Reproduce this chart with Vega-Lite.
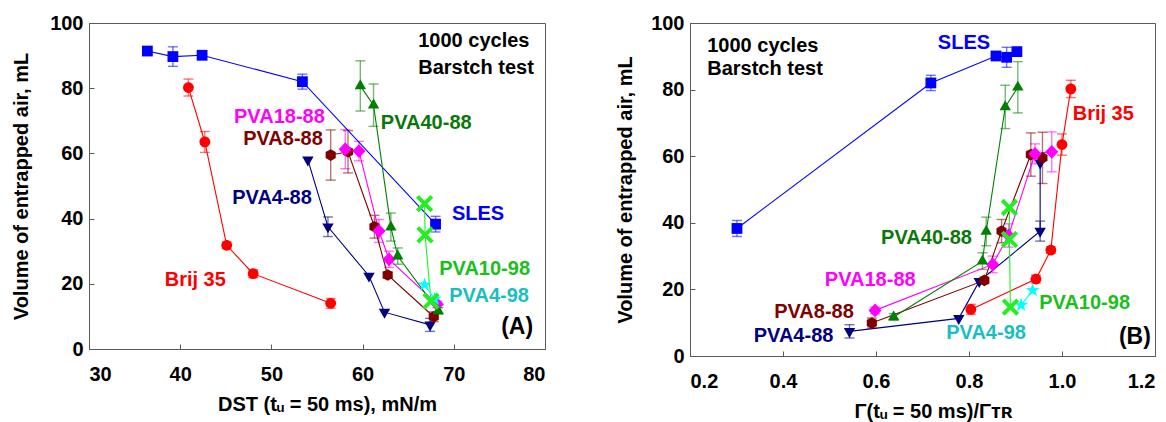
{
  "$schema": "https://vega.github.io/schema/vega-lite/v6.json",
  "background": "white",
  "padding": {"left": 11, "top": 12, "right": 0, "bottom": 0},
  "bounds": "flush",
  "spacing": 145,
  "datasets": {
    "pts": [
      {"series": "SLES", "ord": 1, "dst": 36.4, "gamma": 0.903, "vol": 91.4, "err": 0},
      {"series": "SLES", "ord": 2, "dst": 39.2, "gamma": 0.881, "vol": 89.7, "err": 3.0},
      {"series": "SLES", "ord": 3, "dst": 42.4, "gamma": 0.858, "vol": 90.1, "err": 0},
      {"series": "SLES", "ord": 4, "dst": 53.4, "gamma": 0.718, "vol": 82.0, "err": 2.3},
      {"series": "SLES", "ord": 5, "dst": 68.0, "gamma": 0.301, "vol": 38.3, "err": 2.4},
      {"series": "Brij 35", "ord": 1, "dst": 40.9, "gamma": 1.019, "vol": 80.2, "err": 2.6},
      {"series": "Brij 35", "ord": 2, "dst": 42.7, "gamma": 1.0, "vol": 63.5, "err": 3.2},
      {"series": "Brij 35", "ord": 3, "dst": 45.1, "gamma": 0.976, "vol": 31.8, "err": 1.0},
      {"series": "Brij 35", "ord": 4, "dst": 48.0, "gamma": 0.944, "vol": 23.1, "err": 1.2},
      {"series": "Brij 35", "ord": 5, "dst": 56.5, "gamma": 0.804, "vol": 14.0, "err": 1.5},
      {"series": "PVA4-88", "ord": 1, "dst": 54.0, "gamma": 0.953, "vol": 58.0, "err": 0},
      {"series": "PVA4-88", "ord": 2, "dst": 56.2, "gamma": 0.953, "vol": 37.5, "err": 3.0},
      {"series": "PVA4-88", "ord": 3, "dst": 60.7, "gamma": 0.822, "vol": 22.4, "err": 0},
      {"series": "PVA4-88", "ord": 4, "dst": 62.4, "gamma": 0.778, "vol": 11.3, "err": 0},
      {"series": "PVA4-88", "ord": 5, "dst": 67.4, "gamma": 0.543, "vol": 7.4, "err": 2.0},
      {"series": "PVA8-88", "ord": 1, "dst": 56.5, "gamma": 0.958, "vol": 59.5, "err": 7.7},
      {"series": "PVA8-88", "ord": 2, "dst": 58.4, "gamma": 0.933, "vol": 60.5, "err": 6.5},
      {"series": "PVA8-88", "ord": 3, "dst": 61.3, "gamma": 0.87, "vol": 37.5, "err": 3.5},
      {"series": "PVA8-88", "ord": 4, "dst": 62.75, "gamma": 0.833, "vol": 22.7, "err": 1.0},
      {"series": "PVA8-88", "ord": 5, "dst": 67.8, "gamma": 0.591, "vol": 9.9, "err": 1.5},
      {"series": "PVA18-88", "ord": 1, "dst": 58.1, "gamma": 0.978, "vol": 61.3, "err": 6.0},
      {"series": "PVA18-88", "ord": 2, "dst": 59.6, "gamma": 0.942, "vol": 60.7, "err": 3.0},
      {"series": "PVA18-88", "ord": 3, "dst": 61.8, "gamma": 0.885, "vol": 36.2, "err": 3.5},
      {"series": "PVA18-88", "ord": 4, "dst": 62.9, "gamma": 0.851, "vol": 27.5, "err": 2.5},
      {"series": "PVA18-88", "ord": 5, "dst": 68.2, "gamma": 0.598, "vol": 13.7, "err": 1.0},
      {"series": "PVA40-88", "ord": 1, "dst": 59.75, "gamma": 0.905, "vol": 80.7, "err": 7.7},
      {"series": "PVA40-88", "ord": 2, "dst": 61.2, "gamma": 0.878, "vol": 74.8, "err": 6.5},
      {"series": "PVA40-88", "ord": 3, "dst": 63.1, "gamma": 0.837, "vol": 37.4, "err": 4.3},
      {"series": "PVA40-88", "ord": 4, "dst": 63.85, "gamma": 0.829, "vol": 28.5, "err": 2.5},
      {"series": "PVA40-88", "ord": 5, "dst": 68.3, "gamma": 0.638, "vol": 11.7, "err": 1.0},
      {"series": "PVA10-98", "ord": 1, "dst": 66.8, "gamma": 0.887, "vol": 44.6, "err": 0},
      {"series": "PVA10-98", "ord": 2, "dst": 66.85, "gamma": 0.887, "vol": 35.0, "err": 0},
      {"series": "PVA10-98", "ord": 3, "dst": 67.5, "gamma": 0.889, "vol": 14.7, "err": 0},
      {"series": "PVA4-98", "ord": 1, "dst": 66.8, "gamma": 0.937, "vol": 19.7, "err": 0},
      {"series": "PVA4-98", "ord": 2, "dst": 67.9, "gamma": 0.912, "vol": 15.3, "err": 0}
    ],
    "lblA": [
      {"text": "SLES", "series": "SLES", "dst": 69.8, "vol": 41.4},
      {"text": "PVA40-88", "series": "PVA40-88", "dst": 62.0, "vol": 69.4},
      {"text": "PVA18-88", "series": "PVA18-88", "dst": 45.9, "vol": 71.2},
      {"text": "PVA8-88", "series": "PVA8-88", "dst": 46.9, "vol": 64.5},
      {"text": "PVA4-88", "series": "PVA4-88", "dst": 45.7, "vol": 46.4},
      {"text": "Brij 35", "series": "Brij 35", "dst": 38.3, "vol": 21.2},
      {"text": "PVA10-98", "series": "PVA10-98", "dst": 68.4, "vol": 24.4},
      {"text": "PVA4-98", "series": "PVA4-98", "dst": 69.5, "vol": 16.3},
      {"text": "1000 cycles", "series": "note", "dst": 66.1, "vol": 94.5},
      {"text": "Barstch test", "series": "note", "dst": 66.1, "vol": 86.2}
    ],
    "lblB": [
      {"text": "SLES", "series": "SLES", "gamma": 0.733, "vol": 94.1},
      {"text": "Brij 35", "series": "Brij 35", "gamma": 1.023, "vol": 72.6},
      {"text": "PVA40-88", "series": "PVA40-88", "gamma": 0.611, "vol": 35.5},
      {"text": "PVA18-88", "series": "PVA18-88", "gamma": 0.49, "vol": 22.7},
      {"text": "PVA8-88", "series": "PVA8-88", "gamma": 0.381, "vol": 13.2},
      {"text": "PVA4-88", "series": "PVA4-88", "gamma": 0.337, "vol": 6.0},
      {"text": "PVA4-98", "series": "PVA4-98", "gamma": 0.751, "vol": 7.0},
      {"text": "PVA10-98", "series": "PVA10-98", "gamma": 0.951, "vol": 16.0},
      {"text": "1000 cycles", "series": "note", "gamma": 0.237, "vol": 93.1},
      {"text": "Barstch test", "series": "note", "gamma": 0.237, "vol": 86.1}
    ],
    "tagA": [{"text": "(A)", "dst": 78.7, "vol": 6.7}],
    "tagB": [{"text": "(B)", "gamma": 1.191, "vol": 5.7}]
  },
  "hconcat": [
    {
      "width": 456,
      "height": 326,
      "encoding": {
        "x": {"field": "dst", "type": "quantitative", "scale": {"domain": [30, 80], "nice": false},
              "axis": {"title": "DST (tᵤ = 50 ms), mN/m", "values": [30, 40, 50, 60, 70, 80], "titleX": 238}},
        "y": {"field": "vol", "type": "quantitative", "scale": {"domain": [0, 100], "nice": false},
              "axis": {"title": "Volume of entrapped air, mL", "values": [0, 20, 40, 60, 80, 100], "titlePadding": 18}}
      },
      "layer": [
        {
          "data": {"name": "pts"},
          "transform": [{"filter": "datum.err > 0"}],
          "mark": {"type": "errorbar", "ticks": true, "size": 10, "thickness": 1.4, "opacity": 0.55},
          "encoding": {
            "yError": {"field": "err"},
            "color": {"field": "series", "type": "nominal", "legend": null,
                      "scale": {"domain": ["SLES", "Brij 35", "PVA4-88", "PVA8-88", "PVA18-88", "PVA40-88", "PVA10-98", "PVA4-98"],
                                "range": ["#0000FF", "#FF0000", "#000080", "#800000", "#FF00FF", "#008000", "#22EE22", "#00FFFF"]}}
          }
        },
        {
          "data": {"name": "pts"},
          "mark": {"type": "line", "strokeWidth": 1.1},
          "encoding": {
            "order": {"field": "ord", "type": "quantitative"},
            "color": {"field": "series", "type": "nominal", "legend": null,
                      "scale": {"domain": ["SLES", "Brij 35", "PVA4-88", "PVA8-88", "PVA18-88", "PVA40-88", "PVA10-98", "PVA4-98"],
                                "range": ["#0000FF", "#FF0000", "#000080", "#800000", "#FF00FF", "#008000", "#22EE22", "#00FFFF"]}}
          }
        },
        {
          "data": {"name": "pts"},
          "transform": [{"filter": "datum.series !== 'PVA10-98'"}],
          "mark": {"type": "point", "filled": true, "opacity": 1, "size": 225},
          "encoding": {
            "color": {"field": "series", "type": "nominal", "legend": null,
                      "scale": {"domain": ["SLES", "Brij 35", "PVA4-88", "PVA8-88", "PVA18-88", "PVA40-88", "PVA10-98", "PVA4-98"],
                                "range": ["#0000FF", "#FF0000", "#000080", "#800000", "#FF00FF", "#008000", "#22EE22", "#00FFFF"]}},
            "shape": {"field": "series", "type": "nominal", "legend": null,
                      "scale": {"domain": ["SLES", "Brij 35", "PVA4-88", "PVA8-88", "PVA18-88", "PVA40-88", "PVA10-98", "PVA4-98"],
                                "range": [
                                  "M-0.72,-0.72L0.72,-0.72L0.72,0.72L-0.72,0.72Z",
                                  "M0.72,0A0.72,0.72,0,1,1,-0.72,0A0.72,0.72,0,1,1,0.72,0Z",
                                  "M-0.76,-0.44L0.76,-0.44L0,0.88Z",
                                  "M0,-0.78L0.675,-0.39L0.675,0.39L0,0.78L-0.675,0.39L-0.675,-0.39Z",
                                  "M0,-0.92L0.88,0L0,0.92L-0.88,0Z",
                                  "M-0.76,0.44L0.76,0.44L0,-0.88Z",
                                  "cross",
                                  "M0,-0.98L0.23,-0.318L0.932,-0.303L0.372,0.122L0.576,0.793L0,0.392L-0.576,0.793L-0.372,0.122L-0.932,-0.303L-0.23,-0.318Z"
                                ]}}
          }
        },
        {
          "data": {"name": "pts"},
          "transform": [{"filter": "datum.series === 'PVA10-98'"}],
          "mark": {"type": "point", "filled": false, "shape": "M-1,-1L1,1M-1,1L1,-1", "size": 210, "strokeWidth": 4, "color": "#22EE22", "opacity": 1}
        },
        {
          "data": {"name": "lblA"},
          "mark": {"type": "text", "align": "left", "baseline": "middle", "font": "Liberation Sans", "fontWeight": "bold", "fontSize": 20},
          "encoding": {
            "text": {"field": "text"},
            "fill": {"field": "series", "type": "nominal", "legend": null,
                     "scale": {"domain": ["SLES", "Brij 35", "PVA4-88", "PVA8-88", "PVA18-88", "PVA40-88", "PVA10-98", "PVA4-98", "note"],
                               "range": ["#0000FF", "#FF0000", "#000080", "#800000", "#FF00FF", "#0B770B", "#19C019", "#19BFBF", "#000000"]}}
          }
        },
        {
          "data": {"name": "tagA"},
          "mark": {"type": "text", "align": "right", "baseline": "middle", "font": "Liberation Sans", "fontWeight": "bold", "fontSize": 23, "color": "#000000"},
          "encoding": {"text": {"field": "text"}}
        }
      ]
    },
    {
      "width": 465,
      "height": 333,
      "encoding": {
        "x": {"field": "gamma", "type": "quantitative", "scale": {"domain": [0.2, 1.2], "nice": false},
              "axis": {"title": "Γ(tᵤ = 50 ms)/Γᴛʀ", "values": [0.2, 0.4, 0.6, 0.8, 1.0, 1.2], "format": ".1f", "titleX": 243}},
        "y": {"field": "vol", "type": "quantitative", "scale": {"domain": [0, 100], "nice": false},
              "axis": {"title": "Volume of entrapped air, mL", "values": [0, 20, 40, 60, 80, 100], "titlePadding": 15}}
      },
      "layer": [
        {
          "data": {"name": "pts"},
          "transform": [{"filter": "datum.err > 0"}],
          "mark": {"type": "errorbar", "ticks": true, "size": 10, "thickness": 1.4, "opacity": 0.55},
          "encoding": {
            "yError": {"field": "err"},
            "color": {"field": "series", "type": "nominal", "legend": null,
                      "scale": {"domain": ["SLES", "Brij 35", "PVA4-88", "PVA8-88", "PVA18-88", "PVA40-88", "PVA10-98", "PVA4-98"],
                                "range": ["#0000FF", "#FF0000", "#000080", "#800000", "#FF00FF", "#008000", "#22EE22", "#00FFFF"]}}
          }
        },
        {
          "data": {"name": "pts"},
          "mark": {"type": "line", "strokeWidth": 1.1},
          "encoding": {
            "order": {"field": "ord", "type": "quantitative"},
            "color": {"field": "series", "type": "nominal", "legend": null,
                      "scale": {"domain": ["SLES", "Brij 35", "PVA4-88", "PVA8-88", "PVA18-88", "PVA40-88", "PVA10-98", "PVA4-98"],
                                "range": ["#0000FF", "#FF0000", "#000080", "#800000", "#FF00FF", "#008000", "#22EE22", "#00FFFF"]}}
          }
        },
        {
          "data": {"name": "pts"},
          "transform": [{"filter": "datum.series !== 'PVA10-98'"}],
          "mark": {"type": "point", "filled": true, "opacity": 1, "size": 225},
          "encoding": {
            "color": {"field": "series", "type": "nominal", "legend": null,
                      "scale": {"domain": ["SLES", "Brij 35", "PVA4-88", "PVA8-88", "PVA18-88", "PVA40-88", "PVA10-98", "PVA4-98"],
                                "range": ["#0000FF", "#FF0000", "#000080", "#800000", "#FF00FF", "#008000", "#22EE22", "#00FFFF"]}},
            "shape": {"field": "series", "type": "nominal", "legend": null,
                      "scale": {"domain": ["SLES", "Brij 35", "PVA4-88", "PVA8-88", "PVA18-88", "PVA40-88", "PVA10-98", "PVA4-98"],
                                "range": [
                                  "M-0.72,-0.72L0.72,-0.72L0.72,0.72L-0.72,0.72Z",
                                  "M0.72,0A0.72,0.72,0,1,1,-0.72,0A0.72,0.72,0,1,1,0.72,0Z",
                                  "M-0.76,-0.44L0.76,-0.44L0,0.88Z",
                                  "M0,-0.78L0.675,-0.39L0.675,0.39L0,0.78L-0.675,0.39L-0.675,-0.39Z",
                                  "M0,-0.92L0.88,0L0,0.92L-0.88,0Z",
                                  "M-0.76,0.44L0.76,0.44L0,-0.88Z",
                                  "cross",
                                  "M0,-0.98L0.23,-0.318L0.932,-0.303L0.372,0.122L0.576,0.793L0,0.392L-0.576,0.793L-0.372,0.122L-0.932,-0.303L-0.23,-0.318Z"
                                ]}}
          }
        },
        {
          "data": {"name": "pts"},
          "transform": [{"filter": "datum.series === 'PVA10-98'"}],
          "mark": {"type": "point", "filled": false, "shape": "M-1,-1L1,1M-1,1L1,-1", "size": 210, "strokeWidth": 4, "color": "#22EE22", "opacity": 1}
        },
        {
          "data": {"name": "lblB"},
          "mark": {"type": "text", "align": "left", "baseline": "middle", "font": "Liberation Sans", "fontWeight": "bold", "fontSize": 20},
          "encoding": {
            "text": {"field": "text"},
            "fill": {"field": "series", "type": "nominal", "legend": null,
                     "scale": {"domain": ["SLES", "Brij 35", "PVA4-88", "PVA8-88", "PVA18-88", "PVA40-88", "PVA10-98", "PVA4-98", "note"],
                               "range": ["#0000FF", "#FF0000", "#000080", "#800000", "#FF00FF", "#0B770B", "#19C019", "#19BFBF", "#000000"]}}
          }
        },
        {
          "data": {"name": "tagB"},
          "mark": {"type": "text", "align": "right", "baseline": "middle", "font": "Liberation Sans", "fontWeight": "bold", "fontSize": 23, "color": "#000000"},
          "encoding": {"text": {"field": "text"}}
        }
      ]
    }
  ],
  "config": {
    "view": {"stroke": "#5a5a5a", "strokeWidth": 1},
    "axis": {
      "grid": false,
      "domainColor": "#5a5a5a",
      "tickColor": "#5a5a5a",
      "tickSize": -5,
      "labelFont": "Liberation Sans",
      "labelFontSize": 20,
      "labelFontWeight": "bold",
      "labelColor": "#000000",
      "titleFont": "Liberation Sans",
      "titleFontSize": 20,
      "titleFontWeight": "bold",
      "titleColor": "#000000"
    },
    "axisX": {"labelPadding": 20, "titlePadding": 10},
    "axisY": {"labelPadding": 11, "titlePadding": 12}
  }
}
